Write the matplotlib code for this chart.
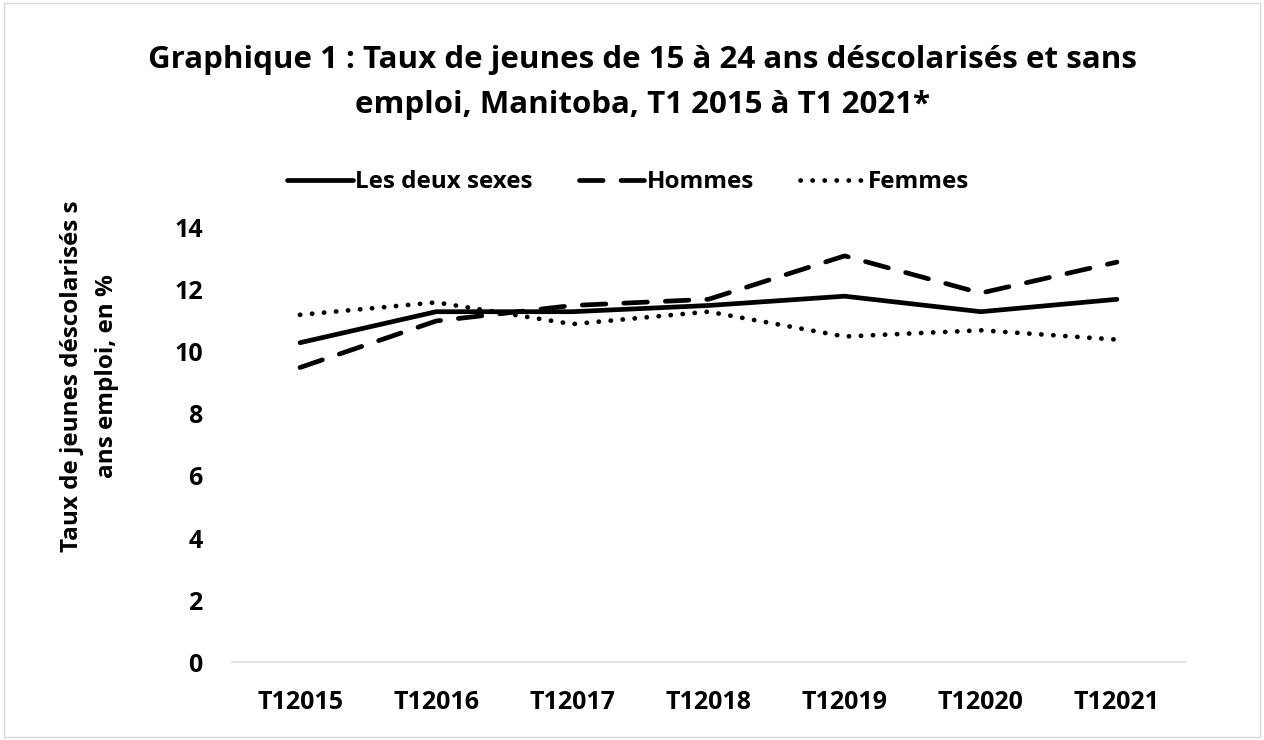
"""Graphique 1 : jeunes déscolarisés et sans emploi, Manitoba."""

import matplotlib
matplotlib.use("Agg")
import matplotlib.pyplot as plt
from matplotlib.patches import Rectangle

plt.rcParams["font.family"] = ["Open Sans", "DejaVu Sans"]

periodes = ["T12015", "T12016", "T12017", "T12018", "T12019", "T12020", "T12021"]
deux_sexes = [10.3, 11.3, 11.3, 11.5, 11.8, 11.3, 11.7]
hommes = [9.5, 11.0, 11.5, 11.7, 13.1, 11.9, 12.9]
femmes = [11.2, 11.6, 10.9, 11.3, 10.5, 10.7, 10.4]

fig = plt.figure(figsize=(12.64, 7.40), dpi=100)
fig.patch.set_facecolor("white")
fig.patches.append(Rectangle((0.003, 0.004), 0.994, 0.992, transform=fig.transFigure,
                             fill=False, edgecolor="#d9d9d9", linewidth=1.0))

ax = fig.add_axes([0.1835, 0.1054, 0.754, 0.5865])
x = range(len(periodes))

ax.plot(x, deux_sexes, color="black", linewidth=3.4, solid_capstyle="round",
        solid_joinstyle="round", label="Les deux sexes")
ax.plot(x, hommes, color="black", linewidth=3.4, dashes=(5, 3.8),
        dash_capstyle="round", label="Hommes")
ax.plot(x, femmes, color="black", linewidth=3.4, dashes=(0.05, 2.5),
        dash_capstyle="round", label="Femmes")

ax.set_xlim(-0.5, 6.5)
ax.set_ylim(0, 14)
ax.set_yticks(range(0, 15, 2))
ax.set_xticks(list(x))
ax.set_xticklabels(periodes)
for side in ("top", "right", "left"):
    ax.spines[side].set_visible(False)
ax.spines["bottom"].set_color("#d9d9d9")
ax.spines["bottom"].set_linewidth(1.2)
ax.tick_params(length=0, labelsize=18, pad=20)
ax.tick_params(axis="y", pad=21)
for lbl in ax.get_xticklabels() + ax.get_yticklabels():
    lbl.set_fontweight("bold")

# y axis title sits above the axes centre, as in the original
fig.text(0.0705, 0.492, "Taux de jeunes déscolarisés s\nans emploi, en %", rotation=90,
         ha="center", va="center", fontsize=17.5, fontweight="bold", linespacing=1.6)

fig.text(0.508, 0.908, "Graphique 1 : Taux de jeunes de 15 à 24 ans déscolarisés et sans",
         ha="center", va="baseline", fontsize=22.5, fontweight="bold")
fig.text(0.508, 0.847, "emploi, Manitoba, T1 2015 à T1 2021*",
         ha="center", va="baseline", fontsize=22.5, fontweight="bold")

fig.legend(loc="center", bbox_to_anchor=(0.497, 0.754), ncol=3, frameon=False,
           prop={"size": 17.5, "weight": "bold"}, handlelength=2.7,
           handletextpad=0.1, columnspacing=1.9)

fig.savefig("out.png", dpi=100, facecolor=fig.get_facecolor())
